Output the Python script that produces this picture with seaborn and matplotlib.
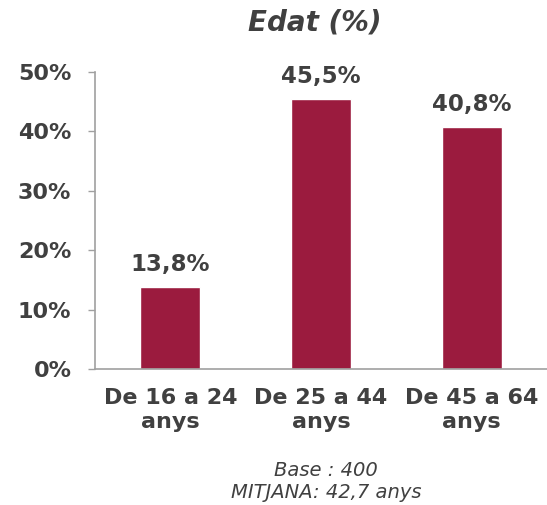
import pandas as pd
import numpy as np
import matplotlib.pyplot as plt
import seaborn as sns

# Data
categories = ['De 16 a 24\nanys', 'De 25 a 44\nanys', 'De 45 a 64\nanys']
values = [13.8, 45.5, 40.8]
value_labels = ['13,8%', '45,5%', '40,8%']
yticks = [0, 10, 20, 30, 40, 50]
ytick_labels = ['0%', '10%', '20%', '30%', '40%', '50%']

df = pd.DataFrame({'cat': categories, 'val': values})

sns.set_style('white')
plt.rcParams['font.family'] = ['DejaVu Sans']
text_color = '#404040'
axis_color = '#a0a0a0'

fig = plt.figure(figsize=(5.47, 5.05), dpi=100)
ax = fig.add_axes([0.1737, 0.2693, 0.8263, 0.5881])

sns.barplot(data=df, x='cat', y='val', color='#9b1b3e', width=0.4,
            saturation=1, ax=ax)

ax.set_xlim(-0.5, 2.5)
ax.set_ylim(0, 50)
ax.set_yticks(yticks)
ax.set_yticklabels(ytick_labels, fontsize=16, fontweight='bold', color=text_color)
ax.set_xticks(range(len(categories)))
ax.set_xticklabels(categories, fontsize=16, fontweight='bold', color=text_color,
                   linespacing=1.2)
ax.set_xticks([-0.5, 0.5, 1.5, 2.5], minor=True)
ax.tick_params(axis='x', which='major', length=0, pad=14)
ax.tick_params(axis='x', which='minor', length=5, color=axis_color, width=1,
               direction='out')
ax.tick_params(axis='y', length=5, color=axis_color, width=1, direction='out',
               pad=12, left=True)
ax.set_xlabel('')
ax.set_ylabel('')

for s in ['top', 'right']:
    ax.spines[s].set_visible(False)
for s in ['left', 'bottom']:
    ax.spines[s].set_color(axis_color)
    ax.spines[s].set_linewidth(1.2)

for p, lab in zip(ax.patches, value_labels):
    ax.annotate(lab, (p.get_x() + p.get_width() / 2, p.get_height()),
                xytext=(0, 8), textcoords='offset points', ha='center',
                va='bottom', fontsize=16.5, fontweight='bold', color=text_color)

fig.text(0.575, 0.955, 'Edat (%)', ha='center', va='center', fontsize=20,
         fontweight='bold', fontstyle='italic', color=text_color)
fig.text(0.596, 0.047, 'Base : 400\nMITJANA: 42,7 anys', ha='center',
         va='center', fontsize=14, fontstyle='italic', color=text_color,
         linespacing=1.2)

fig.savefig('out.png', dpi=100)
